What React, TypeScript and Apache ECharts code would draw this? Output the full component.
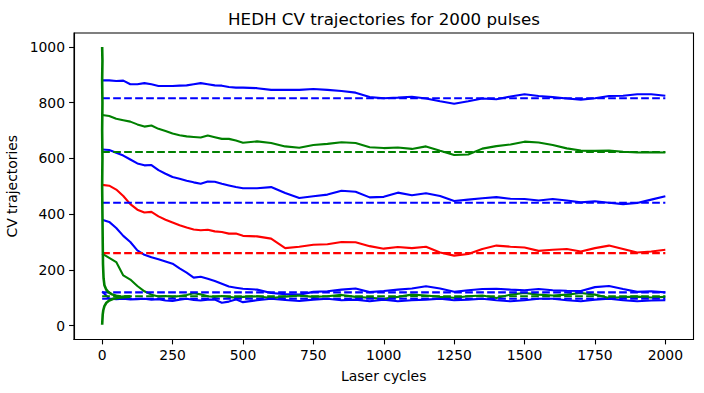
import React, { useEffect, useRef } from 'react';
import * as echarts from 'echarts';

// Laser cycles at which each trajectory value was read
const cycles = [
  0, 25, 50, 75, 100, 125, 150, 175, 200, 225, 250, 275, 300, 325, 350, 375, 400, 425, 450, 475, 500,
  550, 600, 650, 700, 750, 800, 850, 900, 950, 1000, 1050, 1100, 1150, 1200, 1250, 1300, 1350, 1400,
  1450, 1500, 1550, 1600, 1650, 1700, 1750, 1800, 1850, 1900, 1950, 2000,
];

const blueTop = [
  880, 880, 878, 879, 866, 866, 870, 866, 860, 860, 860, 861, 862, 866, 870, 866, 862, 861, 856, 854, 854,
  852, 846, 846, 846, 849, 846, 842, 836, 820, 816, 818, 821, 815, 805, 796, 805, 815, 812, 822, 830, 824,
  820, 815, 811, 816, 824, 825, 830, 830, 825,
];
const greenUpper = [
  756, 752, 742, 737, 732, 722, 714, 718, 706, 698, 689, 683, 679, 677, 675, 682, 676, 670, 670, 664, 656,
  661, 655, 643, 638, 648, 652, 658, 655, 640, 637, 639, 634, 643, 627, 612, 614, 635, 644, 650, 660, 657,
  648, 636, 628, 627, 628, 624, 621, 622, 621,
];
const blueMid = [
  632, 630, 620, 610, 596, 582, 575, 576, 558, 545, 533, 527, 520, 514, 509, 517, 516, 509, 503, 497, 493,
  493, 497, 476, 458, 464, 470, 484, 480, 460, 462, 477, 468, 475, 465, 447, 452, 457, 461, 455, 454, 449,
  454, 449, 442, 446, 441, 436, 440, 452, 464,
];
const redMid = [
  505, 502, 488, 465, 436, 416, 406, 408, 392, 380, 370, 360, 352, 345, 342, 344, 338, 336, 330, 330, 322,
  320, 312, 278, 283, 290, 292, 300, 299, 285, 276, 282, 278, 283, 262, 251, 257, 275, 287, 283, 280, 268,
  272, 275, 266, 278, 287, 275, 262, 266, 272,
];
const blueLowA = [
  380, 372, 350, 322, 300, 270, 254, 245, 238, 230, 222, 205, 190, 172, 175, 168, 160, 150, 140, 136, 132,
  129, 117, 113, 111, 121, 123, 129, 133, 120, 124, 129, 133, 141, 133, 121, 127, 131, 132, 129, 127, 131,
  127, 125, 124, 138, 142, 131, 121, 123, 119,
];
const blueLowB = [
  122, 97, 95, 96, 94, 95, 96, 93, 95, 90, 88, 93, 96, 92, 90, 93, 93, 82, 86, 94, 84,
  91, 96, 92, 88, 93, 96, 91, 93, 87, 93, 87, 91, 93, 96, 91, 93, 96, 91, 87, 91, 96,
  96, 91, 87, 93, 96, 91, 87, 90, 91,
];
const greenLow = [
  258, 243, 228, 180, 165, 142, 123, 111, 104, 106, 103, 106, 110, 116, 112, 105, 103, 106, 103, 100, 103,
  105, 99, 104, 108, 103, 105, 110, 103, 100, 96, 103, 111, 108, 103, 100, 105, 108, 99, 111, 117, 111,
  108, 111, 117, 111, 99, 102, 104, 101, 103,
];

// Fast green trajectories at the very start
const greenDropCycles = [0, 1, 0, 1, 0, 1, 0, 1, 2, 3, 5, 8, 14, 22, 35, 50, 65, 80, 100];
const greenDropValues = [1000, 950, 880, 800, 700, 600, 500, 400, 300, 220, 170, 145, 130, 120, 112, 107, 104, 103, 104];
const greenRiseCycles = [0, 1, 2, 4, 8, 15, 25, 40, 60, 80, 100];
const greenRiseValues = [3, 22, 40, 55, 70, 82, 90, 96, 100, 103, 104];

// Target (dashed) CV levels
const targetBlueTop = 816;
const targetGreenUpper = 623;
const targetBlueMid = 441;
const targetRed = 260;
const targetBlueLowA = 119;
const targetGreenLow = 105;
const targetBlueLowB = 96;

const xTicks = [0, 250, 500, 750, 1000, 1250, 1500, 1750, 2000];
const yTicks = [0, 200, 400, 600, 800, 1000];

const BLUE = '#0000ff';
const GREEN = '#008000';
const RED = '#ff0000';
const FONT = "'DejaVu Sans', 'Liberation Sans', sans-serif";

export default function App() {
  const ref = useRef<HTMLDivElement>(null);

  useEffect(() => {
    if (!ref.current) return;
    const chart = echarts.init(ref.current, null, { renderer: 'svg' });

    const traj = (vals: number[], color: string) => ({
      type: 'line',
      data: cycles.map((c, i) => [c, vals[i]]),
      symbol: 'none',
      showSymbol: false,
      silent: true,
      lineStyle: { color, width: 2.1 },
      itemStyle: { color },
      z: 2,
    });
    const pairs = (cs: number[], vs: number[], color: string) => ({
      type: 'line',
      data: cs.map((c, i) => [c, vs[i]]),
      symbol: 'none',
      showSymbol: false,
      silent: true,
      lineStyle: { color, width: 2.6 },
      itemStyle: { color },
      z: 4,
    });
    const target = (v: number, color: string) => ({
      type: 'line',
      data: [[0, v], [2000, v]],
      symbol: 'none',
      showSymbol: false,
      silent: true,
      lineStyle: { color, width: 2.1, type: [7.7, 3.3] },
      itemStyle: { color },
      z: 3,
    });

    const plain = (v: number) => String(v);

    const axisCommon = {
      type: 'value',
      splitLine: { show: false },
      axisLine: { show: true, onZero: false, lineStyle: { color: '#000', width: 1.1 } },
      nameTextStyle: { color: '#000', fontFamily: FONT, fontSize: 13.9 },
      nameLocation: 'middle',
    };

    chart.setOption({
      animation: false,
      backgroundColor: '#fff',
      grid: {
        left: 74,
        right: 10.5,
        top: 33,
        bottom: 53.5,
        containLabel: false,
        outerBoundsMode: 'none',
        show: true,
        borderColor: '#000',
        borderWidth: 1.1,
        backgroundColor: '#fff',
      },
      graphic: [
        {
          type: 'text',
          x: 384,
          y: 19,
          style: {
            text: 'HEDH CV trajectories for 2000 pulses',
            fontFamily: FONT,
            fontSize: 16.7,
            fill: '#000',
            align: 'center',
            verticalAlign: 'middle',
          },
        },
      ],
      xAxis: {
        ...axisCommon,
        min: -100,
        max: 2100,
        name: 'Laser cycles',
        nameGap: 29,
        axisTick: { show: true, length: 4.9, lineStyle: { color: '#000', width: 1.1 }, customValues: xTicks },
        axisLabel: { customValues: xTicks, formatter: plain, color: '#000', fontFamily: FONT, fontSize: 13.9, margin: 8 },
      },
      yAxis: {
        ...axisCommon,
        min: -50,
        max: 1050,
        name: 'CV trajectories',
        nameGap: 46,
        axisTick: { show: true, length: 4.9, lineStyle: { color: '#000', width: 1.1 }, customValues: yTicks },
        axisLabel: { customValues: yTicks, formatter: plain, color: '#000', fontFamily: FONT, fontSize: 13.9, margin: 9 },
      },
      series: [
        traj(blueTop, BLUE),
        traj(greenUpper, GREEN),
        traj(blueMid, BLUE),
        traj(redMid, RED),
        traj(blueLowA, BLUE),
        traj(blueLowB, BLUE),
        traj(greenLow, GREEN),
        target(targetBlueTop, BLUE),
        target(targetGreenUpper, GREEN),
        target(targetBlueMid, BLUE),
        target(targetRed, RED),
        target(targetBlueLowA, BLUE),
        target(targetGreenLow, GREEN),
        target(targetBlueLowB, BLUE),
        pairs(greenDropCycles, greenDropValues, GREEN),
        pairs(greenRiseCycles, greenRiseValues, GREEN),
      ],
    });

    return () => chart.dispose();
  }, []);

  return (
    <div
      ref={ref}
      style={{ position: 'fixed', left: 0, top: 0, width: 704, height: 393, background: '#fff' }}
    />
  );
}
